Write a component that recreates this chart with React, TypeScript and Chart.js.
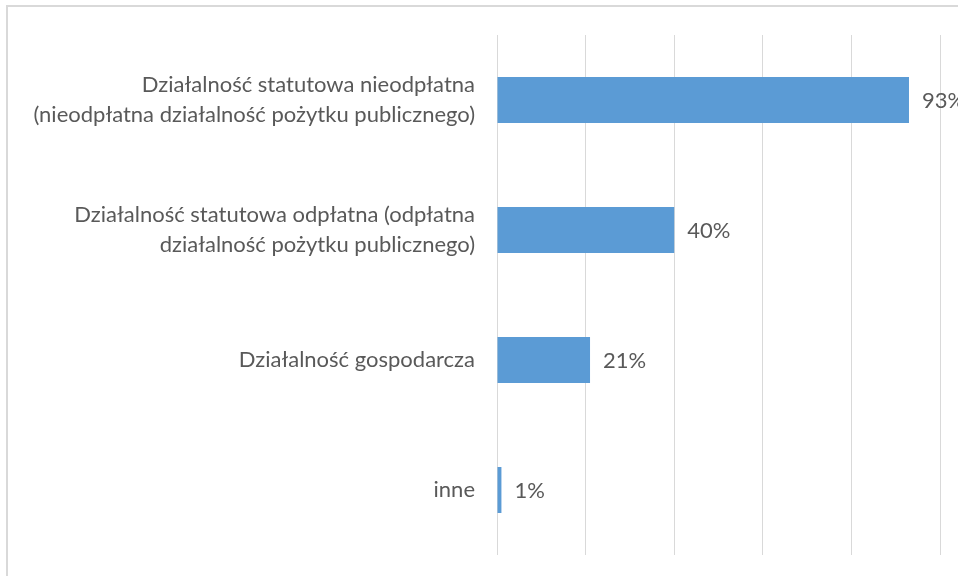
import React, { useEffect, useRef } from "react";
import { Chart, registerables } from "chart.js";

Chart.register(...registerables);

const categories: string[][] = [
  ["Działalność statutowa nieodpłatna", "(nieodpłatna działalność pożytku publicznego)"],
  ["Działalność statutowa odpłatna (odpłatna", "działalność pożytku publicznego)"],
  ["Działalność gospodarcza"],
  ["inne"],
];
const values: number[] = [93, 40, 21, 1];
const xTicks: number[] = [0, 20, 40, 60, 80, 100];

const FONT = "Lato, 'Open Sans', sans-serif";
const TEXT = "#595959";

const dataLabels = {
  id: "dataLabels",
  afterDatasetsDraw(chart: any) {
    const ctx = chart.ctx;
    const meta = chart.getDatasetMeta(0);
    ctx.save();
    ctx.font = `22px ${FONT}`;
    ctx.fillStyle = TEXT;
    ctx.textAlign = "left";
    ctx.textBaseline = "middle";
    meta.data.forEach((bar: any, i: number) => {
      ctx.fillText(values[i] + "%", bar.x + 13, bar.y + 1);
    });
    ctx.restore();
  },
};

export default function App() {
  const ref = useRef<HTMLCanvasElement | null>(null);
  useEffect(() => {
    if (!ref.current) return;
    const chart = new Chart(ref.current, {
      type: "bar",
      data: {
        labels: categories,
        datasets: [
          {
            data: values,
            backgroundColor: "#5B9BD5",
            borderWidth: 0,
            categoryPercentage: 1,
            barPercentage: 0.354,
          },
        ],
      },
      options: {
        indexAxis: "y",
        animation: false,
        responsive: false,
        maintainAspectRatio: false,
        layout: { padding: { left: 0, right: 18, top: 35, bottom: 21 } },
        plugins: { legend: { display: false }, tooltip: { enabled: false } },
        scales: {
          x: {
            min: 0,
            max: 100,
            afterBuildTicks: (scale: any) => {
              scale.ticks = xTicks.map((v) => ({ value: v }));
            },
            afterFit: (scale: any) => {
              scale.height = 0;
              scale.paddingLeft = 0;
              scale.paddingRight = 0;
            },
            ticks: { display: false },
            grid: { color: "#d9d9d9", lineWidth: 1, drawTicks: false },
            border: { display: false },
          },
          y: {
            afterFit: (scale: any) => {
              scale.width = 497;
              scale.paddingTop = 0;
              scale.paddingBottom = 0;
            },
            ticks: {
              color: TEXT,
              padding: 22,
              font: { family: FONT, size: 22, lineHeight: 1.36 },
            },
            grid: { display: false, drawTicks: false },
            border: { display: false },
          },
        },
      },
      plugins: [dataLabels],
    });
    return () => chart.destroy();
  }, []);
  return (
    <div style={{ position: "fixed", left: 0, top: 0, width: 958, height: 576, background: "#fff", overflow: "hidden" }}>
      <div
        style={{
          position: "absolute",
          left: 6,
          top: 5,
          width: 1000,
          height: 1000,
          borderTop: "2px solid #d9d9d9",
          borderLeft: "2px solid #d9d9d9",
        }}
      />
      <canvas ref={ref} width={958} height={576} style={{ position: "absolute", left: 0, top: 0 }} />
    </div>
  );
}
